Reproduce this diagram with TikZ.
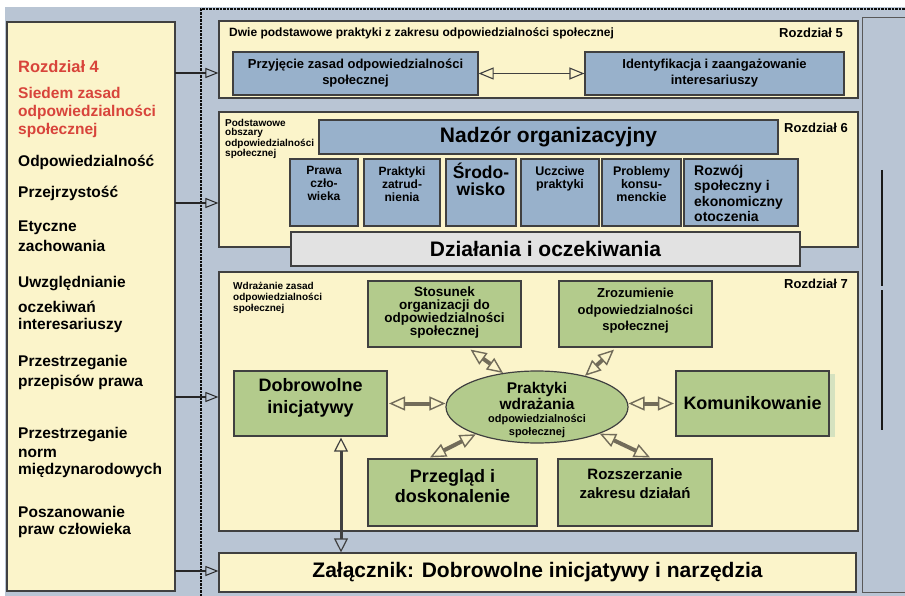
\documentclass[tikz,border=0pt]{standalone}
\usepackage{fontspec}
\setmainfont{Liberation Sans}
\usetikzlibrary{arrows.meta,shapes.geometric}
\definecolor{bgblue}{HTML}{B9C5D4}
\definecolor{cream}{HTML}{FBF4CA}
\definecolor{boxblue}{HTML}{98B1CB}
\definecolor{boxgreen}{HTML}{B3CB8C}
\definecolor{boxgray}{HTML}{E2E2E2}
\definecolor{edge}{HTML}{404040}
\definecolor{redtxt}{HTML}{D8443B}
\definecolor{shaft}{HTML}{726C5A}
\newcommand\fs[2]{\fontsize{#1}{#2}\selectfont}
\newcommand\bx[7]{\node[#6, minimum width={#4-#2}, minimum height={#5-#3}] (#1) at ({(#2+#4)/2},{(#3+#5)/2}) {#7};}
\newcommand\lt[4]{\node[anchor=west, inner sep=0pt, text=#3, font=\bfseries\fs{15.5}{18}] (#1) at (18,#2) {#4};}
\tikzset{
  box/.style={draw=edge, line width=1.2pt, inner sep=0pt, align=center},
  txt/.style={inner sep=0pt, align=center},
  larr/.style={draw=black!85, line width=1.1pt, -{Triangle[open, length=13pt, width=10pt, line width=1pt]}},
  thinarr/.style={draw=edge, line width=1.8pt, {Triangle[open, length=15pt, width=12pt, line width=1.1pt]}-{Triangle[open, length=15pt, width=12pt, line width=1.1pt]}},
  dbl/.style={draw=shaft, line width=4pt, {Triangle[open, length=16pt, width=14pt, line width=1.4pt]}-{Triangle[open, length=16pt, width=14pt, line width=1.4pt]}},
  varr/.style={draw=edge, line width=3pt, {Triangle[open, length=14pt, width=14pt, line width=1.2pt]}-{Triangle[open, length=14pt, width=14pt, line width=1.2pt]}}
}
\begin{document}
\begin{tikzpicture}[x=1pt,y=-1pt]
\useasboundingbox (0,0) rectangle (905,596);
% background
\fill[bgblue] (5,7) rectangle (905,596);
\draw[black!95, line width=1.1pt, dash pattern=on 2.5pt off 1pt] (201,596) -- (201,9) -- (905,9);
% right panel
\draw[draw=gray!70!black, line width=1pt, fill=bgblue] (862,18) rectangle (908,592);
\draw[line width=2.8pt, black!90] (882,170) -- (882,286);
\draw[line width=2.8pt, black!90] (882,290) -- (882,430);
% left box
\bx{left}{7}{22}{175}{591}{box, fill=cream}{}
\node[anchor=west, inner sep=0pt, text=redtxt, font=\bfseries\fs{16.5}{18}] (l0) at (18,67) {Rozdział 4};
\lt{l1}{93}{redtxt}{Siedem zasad}
\lt{l2}{112}{redtxt}{odpowiedzialności}
\lt{l3}{130}{redtxt}{społecznej}
\lt{l4}{162}{black}{Odpowiedzialność}
\lt{l5}{193}{black}{Przejrzystość}
\lt{l6}{228}{black}{Etyczne}
\lt{l7}{246}{black}{zachowania}
\lt{l8}{284}{black}{Uwzględnianie}
\lt{l9}{307}{black}{oczekiwań}
\lt{l10}{325}{black}{interesariuszy}
\lt{l11}{363}{black}{Przestrzeganie}
\lt{l12}{382}{black}{przepisów prawa}
\lt{l13}{435}{black}{Przestrzeganie}
\lt{l14}{453}{black}{norm}
\lt{l15}{470}{black}{międzynarodowych}
\lt{l16}{512}{black}{Poszanowanie}
\lt{l17}{530}{black}{praw człowieka}
% sections
\bx{r5}{219}{21}{858}{98}{box, fill=cream}{}
\bx{r6}{219}{112}{858}{247}{box, fill=cream}{}
\bx{r7}{219}{272}{858}{531}{box, fill=cream}{}
\bx{zal}{219}{553}{856}{592}{box, fill=cream, font=\bfseries\fs{21}{24}}{Załącznik: Dobrowolne inicjatywy i narzędzia}
% left arrows
\coordinate (a5) at (175,73);
\coordinate (a6) at (175,203);
\coordinate (a7) at (175,397);
\coordinate (a8) at (175,571);
\draw[larr] (a5) -- (a5 -| r5.west);
\draw[larr] (a6) -- (a6 -| r6.west);
\draw[larr] (a7) -- (a7 -| r7.west);
\draw[larr] (a8) -- (a8 -| zal.west);
% Rozdzial 5
\node[anchor=west, inner sep=0pt, font=\bfseries\fs{12}{14}] (t5) at (229,33) {Dwie podstawowe praktyki z zakresu odpowiedzialności społecznej};
\node[anchor=east, inner sep=0pt, font=\bfseries\fs{13}{15}] (r5l) at (843,33) {Rozdział 5};
\bx{p1}{233}{52}{478}{95}{box, fill=boxblue, font=\bfseries\fs{13}{16}}{Przyjęcie zasad odpowiedzialności\\społecznej}
\bx{p2}{585}{52}{844}{95}{box, fill=boxblue, font=\bfseries\fs{13}{16}}{Identyfikacja i zaangażowanie\\interesariuszy}
\draw[thinarr] (p1.east) -- (p2.west);
% Rozdzial 6
\node[anchor=north west, align=left, inner sep=0pt, font=\bfseries\fs{10}{8.9}] (podst) at (225,119.5) {Podstawowe\\obszary\\odpowiedzialności\\społecznej};
\node[anchor=east, inner sep=0pt, font=\bfseries\fs{13}{15}] (r6l) at (848,128) {Rozdział 6};
\bx{nadzor}{319}{120}{778}{154}{box, fill=boxblue, font=\bfseries\fs{21}{24}}{Nadzór organizacyjny}
\bx{s1}{290}{159}{358}{226}{box, fill=boxblue}{}
\bx{s2}{364}{159}{440}{226}{box, fill=boxblue}{}
\bx{s3}{446}{159}{516}{226}{box, fill=boxblue}{}
\bx{s4}{521}{159}{599}{226}{box, fill=boxblue}{}
\bx{s5}{602}{159}{681}{226}{box, fill=boxblue}{}
\bx{s6}{684}{159}{798}{226}{box, fill=boxblue}{}
\node[txt, anchor=north, font=\bfseries\fs{12}{13}] (s1t) at (324,166.5) {Prawa\\czło-\\wieka};
\node[txt, anchor=north, font=\bfseries\fs{12}{13}] (s2t) at (402,166.5) {Praktyki\\zatrud-\\nienia};
\node[txt, anchor=north, font=\bfseries\fs{17.5}{16.5}] (s3t) at (481,163) {Środo-\\wisko};
\node[txt, anchor=north, font=\bfseries\fs{12.5}{13}] (s4t) at (560,166.5) {Uczciwe\\praktyki};
\node[txt, anchor=north, font=\bfseries\fs{12.5}{13}] (s5t) at (641.5,166.5) {Problemy\\konsu-\\menckie};
\node[anchor=north west, align=left, inner sep=0pt, font=\bfseries\fs{14}{15.5}] (s6t) at (694,165) {Rozwój\\społeczny i\\ekonomiczny\\otoczenia};
\bx{dzial}{291}{232}{800}{266}{box, fill=boxgray, font=\bfseries\fs{21}{24}}{Działania i oczekiwania}
% Rozdzial 7
\node[anchor=north west, align=left, inner sep=0pt, font=\bfseries\fs{10}{11}] (wdr) at (233,282.5) {Wdrażanie zasad\\odpowiedzialności\\społecznej};
\node[anchor=east, inner sep=0pt, font=\bfseries\fs{13}{15}] (r7l) at (848,284) {Rozdział 7};
\bx{sto}{368}{281}{521}{347}{box, fill=boxgreen}{}
\node[txt, font=\bfseries\fs{13.5}{13}] (stot) at (444.5,313) {Stosunek\\organizacji do\\odpowiedzialności\\społecznej};
\bx{zro}{559}{281}{712}{347}{box, fill=boxgreen}{}
\node[txt, font=\bfseries\fs{13}{16.5}] (zrot) at (635.5,311) {Zrozumienie\\odpowiedzialności\\społecznej};
\bx{dob}{234}{371}{387}{436}{box, fill=boxgreen}{}
\node[txt, font=\bfseries\fs{18}{22}] (dobt) at (310.5,398) {Dobrowolne\\inicjatywy};
\fill[boxgreen!55] (829,374) rectangle (835,437);
\bx{kom}{676}{371}{829}{436}{box, fill=boxgreen, font=\bfseries\fs{18}{22}}{Komunikowanie}
\bx{prz}{368}{459}{537}{526}{box, fill=boxgreen}{}
\node[txt, font=\bfseries\fs{18}{20}] (przt) at (452.5,486) {Przegląd i\\doskonalenie};
\bx{roz}{558}{459}{712}{526}{box, fill=boxgreen}{}
\node[txt, font=\bfseries\fs{15}{19}] (rozt) at (635,484) {Rozszerzanie\\zakresu działań};
\node[ellipse, draw=edge, line width=1.2pt, fill=boxgreen, minimum width=182pt, minimum height=72pt, inner sep=0pt] (ell) at (537,407) {};
\node[txt, font=\bfseries\fs{15.5}{13}] (ellt) at (537,410) {Praktyki\\wdrażania\\{\fs{11}{13}odpowiedzialności}\\{\fs{11}{13}społecznej}};
% arrows in Rozdzial 7
\draw[dbl, shorten <=1.5pt] (dob.east) -- (dob.east -| ell.west);
\draw[dbl, shorten >=1.5pt] (kom.west -| ell.east) -- (kom.west);
\draw[dbl] ([xshift=26pt,yshift=-2pt]sto.south) -- (ell.135);
\draw[dbl] ([xshift=-21.5pt,yshift=-2pt]zro.south) -- (ell.33);
\draw[dbl] ([xshift=-22.5pt,yshift=1pt]prz.north) -- (ell.204);
\draw[dbl] ([xshift=15pt,yshift=1pt]roz.north) -- (ell.337);
\draw[varr] ([xshift=30.5pt,yshift=-1pt]dob.south) -- ([xshift=30.5pt]dob.south |- zal.north);
\end{tikzpicture}
\end{document}
